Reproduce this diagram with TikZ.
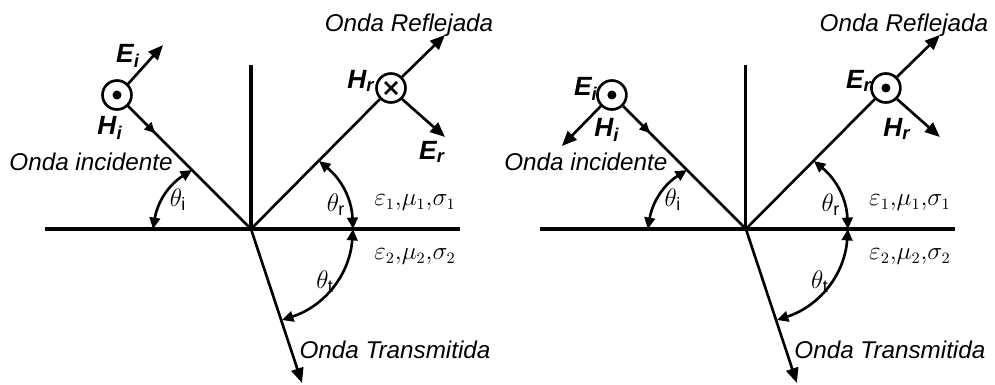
\documentclass[tikz,border=0pt]{standalone}
\usepackage{fontspec}
\setmainfont{Liberation Sans}
\usetikzlibrary{arrows.meta,positioning,decorations.markings}
\tikzset{
  interface/.style={line width=1.8pt},
  ray/.style={line width=1.5pt},
  vecarrow/.style={line width=1.5pt,-{Triangle[length=8.5pt,width=7pt]}},
  anglearc/.style={line width=1.5pt,
    {Triangle[length=6.5pt,width=6pt]}-{Triangle[length=6.5pt,width=6pt]}},
  midarrow/.style={decoration={markings,
    mark=at position #1 with {\arrow{Triangle[length=6pt,width=5.5pt]}}},
    postaction={decorate}},
  field/.style={draw,circle,line width=1.5pt,minimum size=0.58cm,inner sep=0pt},
  wavetext/.style={font=\itshape\fontsize{13.8}{16}\selectfont},
  fieldtext/.style={font=\bfseries\itshape\fontsize{15}{17}\selectfont},
  angletext/.style={font=\fontsize{14.5}{16}\selectfont},
  mediumtext/.style={font=\fontsize{13.5}{15}\selectfont},
}

\begin{document}
\begin{tikzpicture}[x=0.02cm,y=-0.02cm]
  \useasboundingbox (0,0) rectangle (995,385);
  % geometria comun a los dos casos
  \foreach \p/\dx in {a/0cm,b/9.9cm} {
    \begin{scope}[xshift=\dx]
      \coordinate (o\p) at (251,229);
      \coordinate (left\p) at (45,229);
      \coordinate (right\p) at (460,229);
      \coordinate (top\p) at (251,65);
      \coordinate (rtip\p) at (445,35);
      \coordinate (ttip\p) at (302,383);
      \node[field] (ci\p) at (117,95) {};
      \node[field] (cr\p) at (391,88) {};
      \draw[interface] (left\p) -- (right\p);
      \draw[interface] (top\p) -- (o\p);
      \draw[ray,midarrow=0.22] (ci\p.-45) -- (o\p);
      \draw[ray] (o\p) -- (cr\p.-135);
      \draw[vecarrow] (cr\p.45) -- (rtip\p);
      \draw[vecarrow] (o\p) -- (ttip\p);
      % angulos
      \coordinate (ai1\p) at (192,170);
      \coordinate (ai2\p) at (153,229);
      \coordinate (ar1\p) at (319,161);
      \coordinate (ar2\p) at (353,229);
      \coordinate (at1\p) at (353,229);
      \coordinate (at2\p) at (282,320);
      \draw[anglearc] (ai1\p) to[bend right=24] (ai2\p);
      \draw[anglearc] (ar1\p) to[bend left=24] (ar2\p);
      \draw[anglearc] (at1\p) to[bend left=34] (at2\p);
      \node[angletext] (thi\p) at (178,200) {$\theta_{\mathrm{i}}$};
      \node[angletext] (thr\p) at (336,205) {$\theta_{\mathrm{r}}$};
      \node[angletext] (tht\p) at (325,282) {$\theta_{\mathrm{t}}$};
      \node[mediumtext] (med1\p) at (415,203) {$\varepsilon_1{,}\mu_1{,}\sigma_1$};
      \node[mediumtext] (med2\p) at (415,257) {$\varepsilon_2{,}\mu_2{,}\sigma_2$};
      \node[wavetext] (inc\p) at (91,162) {Onda incidente};
      \node[wavetext] (ref\p) at (409,25) {Onda Reflejada};
      \node[wavetext] (tra\p) at (395,350) {Onda Transmitida};
    \end{scope}
  }
  % caso 1: H perpendicular al plano de incidencia
  \fill (cia) circle[radius=4.5];
  \draw[ray] ([shift={(-6,-6)}]cra.center) -- ([shift={(6,6)}]cra.center);
  \draw[ray] ([shift={(-6,6)}]cra.center) -- ([shift={(6,-6)}]cra.center);
  \coordinate (eitip) at (163,45);
  \coordinate (ertip) at (445,137);
  \draw[vecarrow] (cia.45) -- (eitip);
  \draw[vecarrow] (cra.-45) -- (ertip);
  \node[fieldtext] (eia) at (128,56) {E\textsubscript{i}};
  \node[fieldtext] (hia) at (110,128) {H\textsubscript{i}};
  \node[fieldtext] (hra) at (361,81) {H\textsubscript{r}};
  \node[fieldtext] (era) at (432,152) {E\textsubscript{r}};
  % caso 2: E perpendicular al plano de incidencia
  \begin{scope}[xshift=9.9cm]
    \fill (cib) circle[radius=4.5];
    \fill (crb) circle[radius=4.5];
    \coordinate (hitip) at (67,146);
    \coordinate (hrtip) at (445,137);
    \draw[vecarrow] (cib.-135) -- (hitip);
    \draw[vecarrow] (crb.-45) -- (hrtip);
    \node[fieldtext] (eib) at (91,89) {E\textsubscript{i}};
    \node[fieldtext] (hib) at (112,130) {H\textsubscript{i}};
    \node[fieldtext] (erb) at (364,81) {E\textsubscript{r}};
    \node[fieldtext] (hrb) at (402,129) {H\textsubscript{r}};
  \end{scope}
\end{tikzpicture}
\end{document}
